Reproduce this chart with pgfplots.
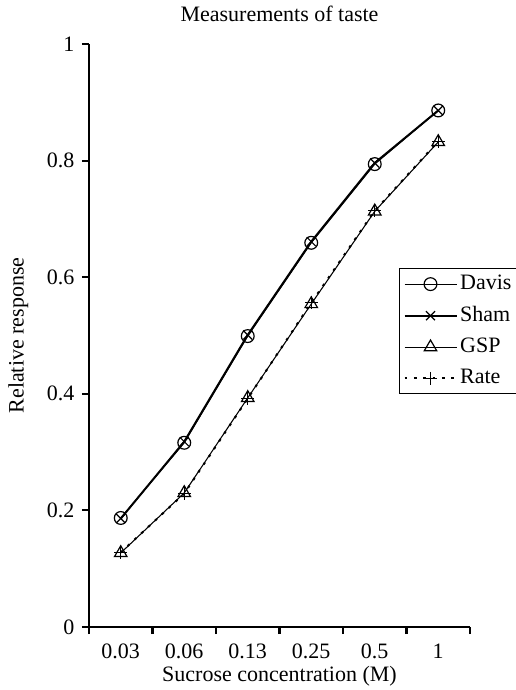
\documentclass[border=0pt]{standalone}
\usepackage{pgfplots}
\pgfplotsset{compat=1.18}
\usepackage{fontspec}
\setmainfont{Liberation Serif}
\newcommand{\ff}{\fontsize{16.5pt}{19pt}\selectfont}
\pgfplotsset{
  mylegend/.style={legend image code/.code={\draw[mark repeat=2,mark phase=2,##1] plot coordinates {(0pt,0pt) (19.5pt,0pt) (39pt,0pt)};}},
}
\begin{document}
\ff
\begin{tikzpicture}
\begin{axis}[
  name=ax,
  scale only axis,
  width=285.75pt, height=437.25pt,
  xmin=0.5, xmax=6.5, ymin=0, ymax=1,
  axis x line*=bottom, axis y line*=left,
  axis line style={line width=1.6pt,-},
  tick align=outside,
  major tick length=5.25pt,
  tick style={line width=1.6pt,black},
  xtick={0.5,1.5,...,6.5},
  xticklabels={},
  extra x ticks={1,2,3,4,5,6},
  extra x tick labels={\textrm{0.03},\textrm{0.06},\textrm{0.13},\textrm{0.25},\textrm{0.5},\textrm{1}},
  extra x tick style={major tick length=0pt, xticklabel style={yshift=-7pt}},
  ytick={0,0.2,0.4,0.6,0.8,1},
  /pgf/number format/assume math mode=true,
  ticklabel style={font=\ff},
  title={Measurements of taste},
  title style={at={([yshift=16.5pt]axis description cs:0.5,1)}, anchor=center, font=\ff},
  xlabel={Sucrose concentration (M)},
  xlabel style={at={([yshift=-37pt]axis description cs:0.5,0)}, anchor=center, font=\ff},
  ylabel={Relative response},
  ylabel style={at={([xshift=-53pt]axis description cs:0,0.5)}, anchor=center, font=\ff},
  legend style={at={(0.8136,0.6158)}, anchor=north west, draw=black, line width=0.8pt,
    font=\ff, row sep=6pt, inner sep=3pt,
    nodes={inner sep=2pt}},
  legend cell align=left,
]
\addplot[mylegend, black, line width=0.8pt, mark=o, mark size=4.8pt, mark options={solid, line width=0.9pt}]
  coordinates {(1,0.187) (2,0.316) (3,0.499) (4,0.659) (5,0.794) (6,0.886)};
\addlegendentry{Davis}
\addplot[mylegend, black, line width=1.5pt, mark=x, mark size=4.8pt, mark options={solid, line width=0.9pt}]
  coordinates {(1,0.186) (2,0.318) (3,0.501) (4,0.661) (5,0.796) (6,0.886)};
\addlegendentry{Sham}
\addplot[mylegend, black, line width=0.8pt, mark=triangle, mark size=5.4pt, mark options={solid, line width=0.9pt}]
  coordinates {(1,0.127) (2,0.230) (3,0.393) (4,0.554) (5,0.713) (6,0.832)};
\addlegendentry{GSP}
\addplot[mylegend, black, line width=1.5pt, dash pattern=on 2pt off 5pt, mark=+, mark size=4.8pt, mark options={solid, line width=0.9pt}]
  coordinates {(1,0.128) (2,0.229) (3,0.392) (4,0.556) (5,0.714) (6,0.833)};
\addlegendentry{Rate}
\end{axis}
\pgfresetboundingbox
\useasboundingbox ([xshift=-66.75pt,yshift=-47.25pt]ax.south west) rectangle ++(386.25pt,517.5pt);
\end{tikzpicture}
\end{document}
